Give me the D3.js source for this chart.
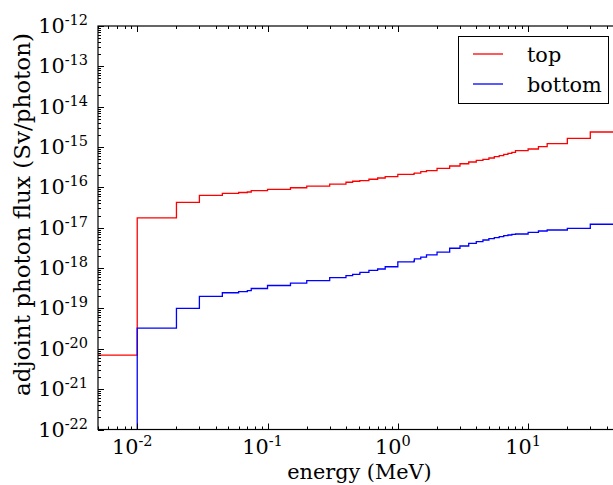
<!DOCTYPE html>
<html><head><meta charset="utf-8">
<script src="https://cdn.jsdelivr.net/npm/d3@7"></script>
<style>body{margin:0;background:#fff}svg{display:block}text{font-family:"DejaVu Serif",serif;fill:#000}</style>
</head><body><svg id="c" width="613" height="485"></svg>
<script>
const edges = [0.001, 0.01, 0.02, 0.03, 0.045, 0.06, 0.07, 0.075, 0.1, 0.15, 0.2, 0.3, 0.4, 0.45, 0.51, 0.512, 0.6, 0.7, 0.8, 1.0, 1.33, 1.34, 1.5, 1.66, 2.0, 2.5, 3.0, 3.5, 4.0, 4.5, 5.0, 5.5, 6.0, 6.5, 7.0, 7.5, 8.0, 10, 12, 14, 20, 30, 50];
const topVals = [7.0e-21, 1.75e-17, 4.27e-17, 6.37e-17, 7.14e-17, 7.48e-17, 7.69e-17, 8.28e-17, 8.98e-17, 9.8e-17, 1.08e-16, 1.21e-16, 1.34e-16, 1.42e-16, 1.45e-16, 1.47e-16, 1.59e-16, 1.71e-16, 1.84e-16, 2.11e-16, 2.2e-16, 2.27e-16, 2.45e-16, 2.59e-16, 2.97e-16, 3.39e-16, 3.86e-16, 4.26e-16, 4.7e-16, 4.97e-16, 5.36e-16, 5.77e-16, 6.1e-16, 6.61e-16, 7.0e-16, 7.41e-16, 8.12e-16, 8.95e-16, 1.02e-15, 1.21e-15, 1.65e-15, 2.36e-15];
const bottomVals = [0, 3.26e-20, 1.01e-19, 2.0e-19, 2.45e-19, 2.6e-19, 2.75e-19, 3.12e-19, 3.7e-19, 4.25e-19, 4.87e-19, 5.78e-19, 6.48e-19, 7.02e-19, 7.2e-19, 7.87e-19, 8.82e-19, 9.5e-19, 1.08e-18, 1.42e-18, 1.5e-18, 1.70e-18, 1.88e-18, 2.13e-18, 2.5e-18, 3.1e-18, 3.53e-18, 4.12e-18, 4.51e-18, 4.97e-18, 5.35e-18, 5.67e-18, 6.0e-18, 6.35e-18, 6.61e-18, 6.88e-18, 7.0e-18, 7.71e-18, 8.3e-18, 8.79e-18, 9.68e-18, 1.22e-17];
const seriesNames = ["top", "bottom"];
const seriesColors = ["#ff0000", "#0000ff"];
const xDomain = [5e-3, 50];
const yDomain = [1e-22, 1e-12];

const L = 98, R = 619.2, T = 26, B = 429.5;
const FS = 20.8, SUP = 14.5;
const svg = d3.select("#c");
const x = d3.scaleLog().domain(xDomain).range([L, R]);
const y = d3.scaleLog().domain(yDomain).range([B, T]);

svg.append("defs").append("clipPath").attr("id", "clip")
  .append("rect").attr("x", L).attr("y", T).attr("width", R - L).attr("height", B - T);

const line = d3.line()
  .x(d => x(d[0]))
  .y(d => y(Math.max(d[1], 1e-40)))
  .curve(d3.curveStepAfter);

[topVals, bottomVals].forEach((vals, k) => {
  const pts = vals.map((v, i) => [edges[i], v]);
  pts.push([edges[edges.length - 1], vals[vals.length - 1]]);
  svg.append("path").attr("clip-path", "url(#clip)")
    .attr("d", line(pts)).attr("fill", "none")
    .attr("stroke", seriesColors[k]).attr("stroke-width", 1.3);
});

// ticks
const g = svg.append("g").attr("stroke", "#000").attr("stroke-width", 1);
const isMajor = v => Math.abs(Math.log10(v) - Math.round(Math.log10(v))) < 1e-6;
x.ticks().forEach(v => {
  const px = Math.round(x(v)) + 0.5, len = isMajor(v) ? 6 : 3;
  if (px < L || px > R) return;
  g.append("line").attr("x1", px).attr("x2", px).attr("y1", B).attr("y2", B - len);
  g.append("line").attr("x1", px).attr("x2", px).attr("y1", T).attr("y2", T + len);
});
y.ticks(30).forEach(v => {
  const py = Math.round(y(v)) + 0.5, len = isMajor(v) ? 6 : 3;
  g.append("line").attr("x1", L).attr("x2", L + len).attr("y1", py).attr("y2", py);
  g.append("line").attr("x1", R).attr("x2", R - len).attr("y1", py).attr("y2", py);
});
svg.append("rect").attr("x", L).attr("y", T).attr("width", R - L).attr("height", B - T)
  .attr("fill", "none").attr("stroke", "#000").attr("stroke-width", 1.2);

// tick labels
x.ticks().filter(isMajor).forEach(v => {
  const t = svg.append("text").attr("x", x(v) - 5).attr("y", 453.5)
    .attr("text-anchor", "middle").attr("font-size", FS);
  t.append("tspan").text("10");
  t.append("tspan").attr("font-size", SUP).attr("dy", -8).text(Math.round(Math.log10(v)));
});
y.ticks(30).filter(isMajor).forEach(v => {
  const t = svg.append("text").attr("x", 88).attr("y", y(v) + 7)
    .attr("text-anchor", "end").attr("font-size", FS);
  t.append("tspan").text("10");
  t.append("tspan").attr("font-size", SUP).attr("dy", -8).text(Math.round(Math.log10(v)));
});

// axis labels
svg.append("text").attr("x", 359.5).attr("y", 479).attr("text-anchor", "middle")
  .attr("font-size", FS).text("energy (MeV)");
svg.append("text").attr("transform", "translate(30,214.5) rotate(-90)").attr("text-anchor", "middle")
  .attr("font-size", 23).text("adjoint photon flux (Sv/photon)");

// legend
const lg = svg.append("g");
lg.append("rect").attr("x", 458.5).attr("y", 36.5).attr("width", 150).attr("height", 67)
  .attr("fill", "#fff").attr("stroke", "#000").attr("stroke-width", 1);
seriesNames.forEach((n, i) => {
  const yy = 54 + i * 30;
  lg.append("line").attr("x1", 473).attr("x2", 503).attr("y1", yy).attr("y2", yy)
    .attr("stroke", seriesColors[i]).attr("stroke-width", 1.3);
  lg.append("text").attr("x", 527).attr("y", yy + 7.5).attr("font-size", FS).text(n);
});
</script></body></html>
